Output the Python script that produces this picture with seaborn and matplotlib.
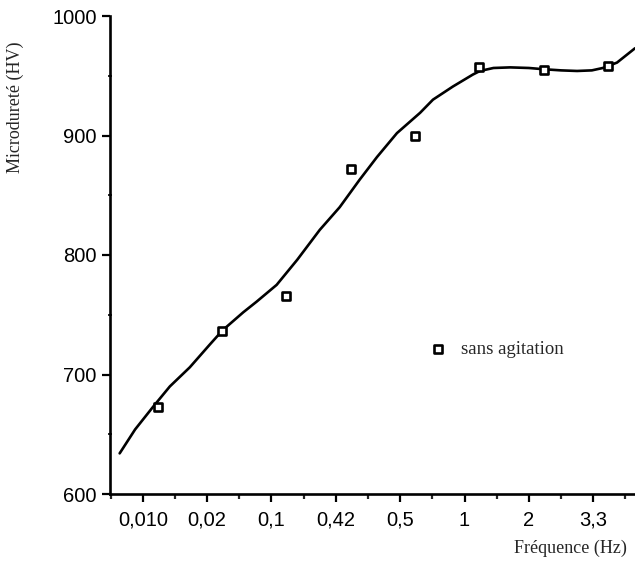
import seaborn as sns
import pandas as pd
import matplotlib.pyplot as plt
from matplotlib.ticker import MultipleLocator

# frequency categories (evenly spaced on the axis) and measured hardness
freq_labels = ["0,010", "0,02", "0,1", "0,42", "0,5", "1", "2", "3,3"]
hv_measured = [673, 736, 766, 872, 900, 957, 955, 958]

# hand-drawn trend curve (x in category units)
curve_pos = [-0.36, -0.12, 0.16, 0.42, 0.73, 1.04, 1.24, 1.56, 1.77, 2.08,
             2.40, 2.75, 3.06, 3.37, 3.64, 3.95, 4.31, 4.51, 4.82, 5.13,
             5.24, 5.45, 5.71, 6.00, 6.22, 6.50, 6.75, 6.98, 7.15, 7.37, 7.65]
curve_hv = [634, 654, 673, 690, 706, 725, 737, 752, 761, 775,
            796, 821, 840, 863, 882, 902, 919, 930, 941, 951,
            954, 956.5, 957, 956.5, 955.5, 954.5, 954, 954.5, 956.5, 961, 973]

POINT_SHIFT = 0.23  # markers sit a little right of each tick


def plot():
    sns.set_style("ticks")
    plt.rcParams["font.family"] = ["Liberation Sans", "DejaVu Sans"]

    pts = pd.DataFrame({"pos": [i + POINT_SHIFT for i in range(len(freq_labels))],
                        "hv": hv_measured})
    curve = pd.DataFrame({"pos": curve_pos, "hv": curve_hv})

    fig = plt.figure(figsize=(6.35, 5.64), dpi=100)
    ax = fig.add_axes([110 / 635, 1 - 494 / 564, 525 / 635, 478 / 564])

    sns.lineplot(data=curve, x="pos", y="hv", sort=False, estimator=None,
                 color="black", linewidth=1.9, solid_joinstyle="round",
                 solid_capstyle="round", ax=ax)
    sns.scatterplot(data=pts, x="pos", y="hv", marker="s", s=38,
                    facecolor="white", edgecolor="black", linewidth=1.9,
                    label="sans agitation", ax=ax, zorder=3)

    ax.set_xlim(-0.51, 7.65)
    ax.set_ylim(600, 1000)
    ax.set_xticks(range(len(freq_labels)))
    ax.set_xticklabels(freq_labels)
    ax.xaxis.set_minor_locator(MultipleLocator(0.5))
    ax.set_yticks([600, 700, 800, 900, 1000])
    ax.yaxis.set_minor_locator(MultipleLocator(50))

    ax.tick_params(axis="both", which="major", labelsize=14.5, width=1.6,
                   length=6, color="black", labelcolor="black")
    ax.tick_params(axis="x", which="major", pad=6)
    ax.tick_params(axis="x", which="minor", length=3.5, width=1.6)
    ax.tick_params(axis="y", which="minor", length=2.5, width=1.4,
                   direction="inout")
    for side in ["left", "bottom"]:
        ax.spines[side].set_linewidth(1.9)
        ax.spines[side].set_color("black")
    sns.despine(ax=ax)

    ax.set_xlabel("Fréquence (Hz)", family=["Liberation Serif", "DejaVu Serif"],
                  fontsize=13, ha="right", va="center")
    ax.xaxis.set_label_coords(0.985, -0.113)
    ax.set_ylabel("Microdureté (HV)", family=["Liberation Serif", "DejaVu Serif"],
                  fontsize=13, va="center", ha="center")
    ax.yaxis.set_label_coords(-0.18, 0.81)

    ax.legend(loc="center left", bbox_to_anchor=(0.606, 0.303), frameon=False,
              borderpad=0, borderaxespad=0, handlelength=1.0, handletextpad=0.75,
              prop={"family": ["Liberation Serif", "DejaVu Serif"], "size": 13.5})

    fig.savefig("out.png", dpi=100)


if __name__ == '__main__':
    plot()
